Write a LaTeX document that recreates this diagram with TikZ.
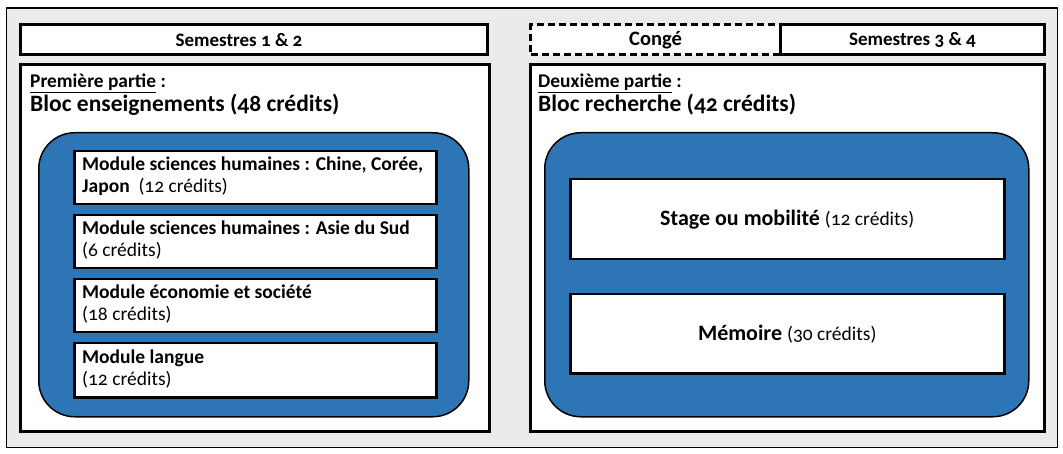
\documentclass[tikz,border=0pt]{standalone}
\usepackage{fontspec}
\setmainfont{Carlito}[Numbers=OldStyle]
\definecolor{bgray}{RGB}{235,235,235}
\definecolor{bblue}{RGB}{46,117,182}
\begin{document}
\begin{tikzpicture}[x=1pt,y=-1pt,
  outerbox/.style={draw=black, line width=1.8pt, fill=bgray, inner sep=0pt, anchor=north west},
  headbox/.style={draw=black, line width=3pt, fill=white, inner sep=0pt, anchor=north west, font=\fontsize{19}{22}\selectfont\bfseries},
  headtext/.style={inner sep=0pt, anchor=center, font=\fontsize{19}{22}\selectfont\bfseries},
  bigbox/.style={draw=black, line width=3pt, fill=white, inner sep=0pt, anchor=north west},
  bluebox/.style={draw=black, line width=1.5pt, fill=bblue, rounded corners=36pt, inner sep=0pt, anchor=north west},
  modbox/.style={draw=black, line width=2.5pt, fill=white, inner sep=0pt, anchor=north west},
  modtext/.style={inner sep=0pt, anchor=base west, font=\fontsize{19.5}{22}\selectfont},
  parttext/.style={inner sep=0pt, anchor=base west, font=\fontsize{19.4}{22}\selectfont\bfseries},
  bloctext/.style={inner sep=0pt, anchor=base west, font=\fontsize{23.5}{27}\selectfont\bfseries},
  centtext/.style={inner sep=0pt, anchor=center, font=\fontsize{22}{26}\selectfont}]
\useasboundingbox (0,0) rectangle (1063,454);
\node[outerbox, minimum width=1051pt, minimum height=439pt] (outer) at (5.5,7.5) {};
% left column
\node[headbox, minimum width=467pt, minimum height=30pt] (h1) at (19,23.5) {};
\node[headtext] (h1t) at ([xshift=-15pt]h1.center) {Semestres 1 \& 2};
\node[bigbox, minimum width=469pt, minimum height=366pt] (b1) at (19,63.5) {};
\node[parttext] (p1) at (30,88) {\underline{Première partie} :};
\node[bloctext] (t1) at (30,112) {Bloc enseignements (48 crédits)};
\node[bluebox, minimum width=430pt, minimum height=284pt] (u1) at (38,132) {};
\node[modbox, minimum width=362pt, minimum height=53pt] (m1) at (73,150) {};
\node[modbox, minimum width=362pt, minimum height=53pt] (m2) at (73,214) {};
\node[modbox, minimum width=362pt, minimum height=53pt] (m3) at (73,278) {};
\node[modbox, minimum width=362pt, minimum height=54pt] (m4) at (73,342) {};
\node[modtext] (m1a) at (82,171) {\bfseries Module sciences humaines : Chine, Corée,};
\node[modtext] (m1b) at (82,193) {\textbf{Japon}\ \ (12 crédits)};
\node[modtext] (m2a) at (82,235) {\bfseries Module sciences humaines : Asie du Sud};
\node[modtext] (m2b) at (82,257) {(6 crédits)};
\node[modtext] (m3a) at (82,299) {\bfseries Module économie et société};
\node[modtext] (m3b) at (82,321) {(18 crédits)};
\node[modtext] (m4a) at (82,363) {\bfseries Module langue};
\node[modtext] (m4b) at (82,385) {(12 crédits)};
% right column
\node[headbox, dash pattern=on 7pt off 4pt, minimum width=250pt, minimum height=30pt] (h2) at (529,23.5) {};
\node[headtext, font=\fontsize{20.5}{24}\selectfont\bfseries] (h2t) at (h2.center) {Congé};
\node[headbox, minimum width=264pt, minimum height=30pt] (h3) at (779,23.5) {};
\node[headtext] (h3t) at (h3.center) {Semestres 3 \& 4};
\node[bigbox, minimum width=514pt, minimum height=366pt] (b2) at (529,63.5) {};
\node[parttext] (p2) at (538,88) {\underline{Deuxième partie} :};
\node[bloctext] (t2) at (538,112) {Bloc recherche (42 crédits)};
\node[bluebox, minimum width=484pt, minimum height=284pt] (u2) at (544,132) {};
\node[modbox, minimum width=434pt, minimum height=80pt] (s1) at (569,178) {};
\node[modbox, minimum width=434pt, minimum height=79pt] (s2) at (569,293) {};
\node[centtext] (s1t) at (s1.center) {\textbf{Stage ou mobilité} {\fontsize{19.5}{22}\selectfont(12 crédits)}};
\node[centtext] (s2t) at (s2.center) {\textbf{Mémoire} {\fontsize{19.5}{22}\selectfont(30 crédits)}};
\end{tikzpicture}
\end{document}
